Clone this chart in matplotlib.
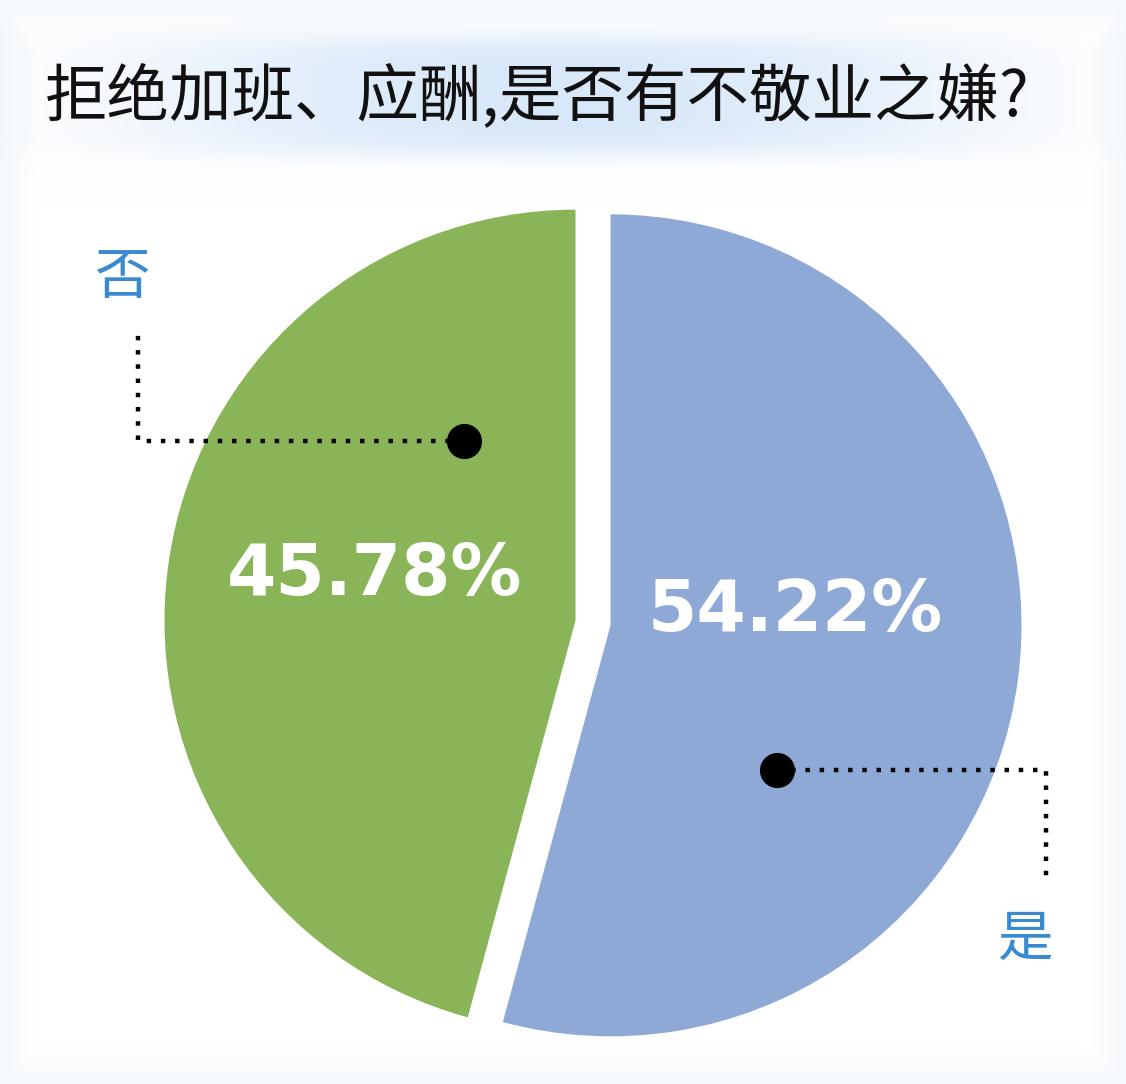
import numpy as np
import matplotlib.pyplot as plt

plt.rcParams['font.family'] = ['Noto Sans CJK SC', 'DejaVu Sans']

# ---------------- DATA ----------------
title = "拒绝加班、应酬,是否有不敬业之嫌?"
labels = ["是", "否"]
values = [54.22, 45.78]
colors = ["#8FA9D6", "#89B458"]   # blue, green

W, H = 1126, 1084
fig = plt.figure(figsize=(W / 100, H / 100), dpi=100)
ax = fig.add_axes([0, 0, 1, 1])

# ---------------- BACKGROUND ----------------
yy, xx = np.mgrid[0:H, 0:W]
edge = np.minimum.reduce([xx, W - xx, yy, H - yy]) / 40.0
edge = np.clip(edge, 0, 1)
band = np.exp(-((xx - 560) / 520.0) ** 6 - ((yy - 95) / 62.0) ** 6)
band *= np.exp(-((xx - 560) / 420.0) ** 2) * 0.85 + 0.15
white = np.array([1.0, 1.0, 1.0])
edge_c = np.array([0.96, 0.975, 0.99])
band_c = np.array([0.85, 0.91, 0.975])
img = white * edge[..., None] + edge_c * (1 - edge[..., None])
img = img * (1 - band[..., None]) + band_c * band[..., None]
ax.imshow(img, extent=(0, W, 0, H), origin="upper", zorder=0)

# ---------------- PIE ----------------
cx, cy, r = 593, H - 623, 411
gap = 0.043 * r
ax.pie(
    values,
    colors=colors,
    startangle=90,
    counterclock=False,
    explode=[gap, gap],
    center=(cx, cy),
    radius=r,
    wedgeprops=dict(linewidth=0),
    frame=True,
)

# percentage labels
ax.text(375, H - 576, f"{values[1]:.2f}%", color="white", fontsize=51,
        fontweight="bold", family="DejaVu Sans", ha="center", va="center", zorder=5)
ax.text(795, H - 611, f"{values[0]:.2f}%", color="white", fontsize=51,
        fontweight="bold", family="DejaVu Sans", ha="center", va="center", zorder=5)

# ---------------- LEADER LINES ----------------
dot_style = dict(color="black", linewidth=3.2, linestyle=(0, (1, 2.2)),
                 dash_capstyle="butt", zorder=6)
# 否
ax.plot([464, 138, 138], [H - 441, H - 441, H - 332], **dot_style)
ax.scatter([464], [H - 441], s=640, color="black", zorder=7, linewidths=0)
ax.text(122, H - 278, labels[1], color="#3A8AD0", fontsize=40,
        ha="center", va="center", zorder=7)
# 是
ax.plot([777, 1046, 1046], [H - 770, H - 770, H - 880], **dot_style)
ax.scatter([777], [H - 770], s=640, color="black", zorder=7, linewidths=0)
ax.text(1025, H - 940, labels[0], color="#3A8AD0", fontsize=40,
        ha="center", va="center", zorder=7)

# ---------------- TITLE ----------------
ax.text(45, H - 97, title, color="#111111", fontsize=45,
        fontweight="medium", ha="left", va="center", zorder=7)

ax.set_xlim(0, W)
ax.set_ylim(0, H)
ax.set_aspect("equal")
ax.axis("off")

fig.savefig("out.png", dpi=100)
